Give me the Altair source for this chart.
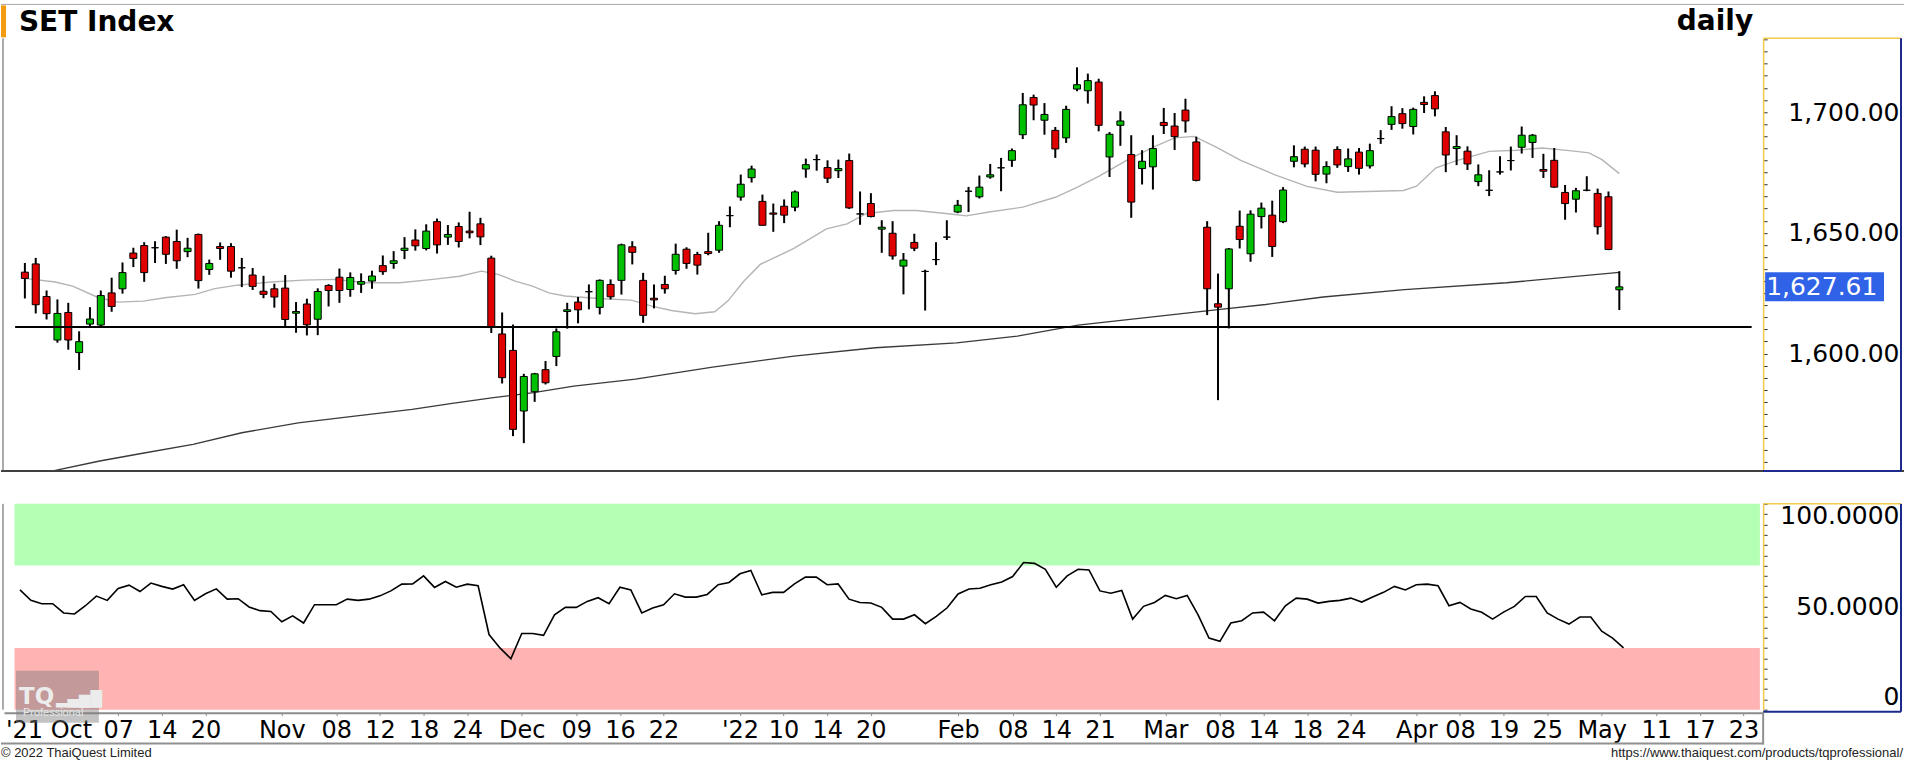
import json
import altair as alt
import pandas as pd

# ---------------- data ----------------
# daily candles, index 0 = 23 Sep 2021 ... index 147 = 6 May 2022
opens = [1633.7, 1637.1, 1623.6, 1605.6, 1617.0, 1600.4, 1612.2, 1611.8, 1625.1, 1626.8,
         1641.6, 1644.7, 1643.8, 1648.2, 1646.4, 1642.2, 1649.3, 1634.8, 1644.3, 1644.3,
         1635.5, 1632.5, 1625.8, 1626.8, 1627.1, 1616.7, 1620.5, 1614.2, 1628.2, 1631.6,
         1626.5, 1628.7, 1630.0, 1636.4, 1637.3, 1642.7, 1647.0, 1643.5, 1654.6, 1648.2,
         1652.6, 1650.7, 1653.7, 1639.5, 1608.1, 1601.3, 1576.2, 1584.2, 1593.3, 1598.8,
         1617.4, 1621.3, 1625.6, 1619.1, 1628.6, 1630.3, 1644.2, 1630.3, 1622.9, 1628.6,
         1634.4, 1643.2, 1641.0, 1642.2, 1642.8, 1657.1, 1664.8, 1672.8, 1663.0, 1658.2,
         1661.0, 1660.6, 1676.4, 1680.3, 1677.0, 1675.7, 1679.9, 1657.8, 1662.1, 1651.5,
         1649.8, 1636.2, 1646.0, 1634.0, 1638.9, 1648.2, 1658.6, 1667.2, 1664.9, 1673.1,
         1676.9, 1680.0, 1690.6, 1706.0, 1696.6, 1692.4, 1689.3, 1709.5, 1708.8, 1712.4,
         1681.4, 1694.5, 1682.4, 1676.6, 1677.3, 1695.7, 1694.2, 1700.8, 1687.6, 1652.3,
         1620.6, 1626.8, 1652.7, 1641.3, 1656.7, 1657.3, 1654.6, 1679.6, 1684.6, 1684.2,
         1674.3, 1684.5, 1677.4, 1683.4, 1677.7, 1689.0, 1694.9, 1699.3, 1694.0, 1704.0,
         1706.8, 1691.8, 1684.9, 1683.8, 1671.2, 1667.6, 1675.2, 1679.9, 1685.4, 1687.4,
         1676.2, 1680.0, 1666.7, 1663.9, 1667.6, 1666.3, 1664.9, 1626.4]
highs = [1637.5, 1639.6, 1626.1, 1622.4, 1621.0, 1609.2, 1619.2, 1626.1, 1631.4, 1637.7,
         1643.8, 1646.1, 1646.5, 1648.6, 1651.3, 1647.9, 1649.7, 1638.9, 1646.0, 1645.7,
         1639.6, 1635.4, 1632.2, 1628.9, 1632.5, 1621.3, 1622.7, 1627.0, 1628.7, 1635.2,
         1633.6, 1633.2, 1634.3, 1640.6, 1642.4, 1648.2, 1651.4, 1653.5, 1655.9, 1653.2,
         1654.3, 1658.7, 1656.2, 1640.5, 1617.0, 1612.0, 1591.6, 1592.0, 1596.9, 1610.4,
         1621.0, 1623.4, 1628.6, 1630.7, 1630.7, 1645.5, 1646.5, 1633.4, 1628.6, 1632.2,
         1645.5, 1644.0, 1642.1, 1650.0, 1654.8, 1660.9, 1674.1, 1677.8, 1665.8, 1662.1,
         1663.8, 1667.5, 1680.7, 1682.4, 1680.0, 1680.3, 1682.8, 1667.1, 1666.4, 1655.2,
         1654.8, 1641.6, 1649.6, 1634.7, 1646.1, 1655.2, 1663.6, 1669.0, 1673.7, 1678.5,
         1681.0, 1684.9, 1707.9, 1707.2, 1703.7, 1693.8, 1702.6, 1718.5, 1715.9, 1713.8,
         1691.7, 1700.3, 1690.4, 1684.2, 1690.4, 1701.7, 1699.6, 1705.5, 1689.8, 1654.8,
         1633.1, 1643.7, 1659.2, 1659.3, 1662.5, 1663.3, 1668.9, 1686.2, 1685.7, 1685.7,
         1679.6, 1685.8, 1684.9, 1685.1, 1686.9, 1692.5, 1702.4, 1701.6, 1701.8, 1706.5,
         1708.6, 1693.8, 1690.4, 1685.8, 1678.3, 1675.9, 1681.7, 1685.7, 1694.0, 1690.9,
         1682.7, 1685.1, 1669.8, 1668.6, 1673.4, 1668.3, 1667.1, 1634.1]
lows = [1622.8, 1616.6, 1614.1, 1604.5, 1601.6, 1593.2, 1611.4, 1611.1, 1617.3, 1624.8,
        1635.8, 1629.7, 1637.5, 1637.1, 1635.1, 1639.9, 1626.9, 1632.6, 1638.8, 1631.4,
        1627.5, 1626.3, 1622.9, 1619.0, 1611.0, 1608.6, 1607.5, 1607.6, 1619.5, 1621.0,
        1623.5, 1625.1, 1626.8, 1632.6, 1635.1, 1639.1, 1642.6, 1642.7, 1641.4, 1645.0,
        1643.9, 1647.7, 1644.9, 1608.5, 1587.6, 1565.8, 1562.9, 1580.0, 1587.2, 1594.8,
        1610.3, 1612.5, 1618.3, 1616.2, 1622.4, 1624.4, 1636.9, 1612.7, 1618.7, 1624.8,
        1632.7, 1635.1, 1632.7, 1640.7, 1641.7, 1652.3, 1663.3, 1670.8, 1653.0, 1650.4,
        1654.0, 1658.9, 1672.8, 1675.7, 1670.6, 1672.7, 1659.9, 1653.3, 1656.4, 1641.7,
        1638.9, 1624.5, 1642.4, 1617.8, 1636.6, 1647.0, 1658.1, 1658.6, 1664.2, 1672.4,
        1667.2, 1677.3, 1688.8, 1696.6, 1690.6, 1681.0, 1687.2, 1708.6, 1703.5, 1692.0,
        1673.1, 1686.0, 1656.2, 1670.0, 1667.9, 1690.9, 1684.3, 1691.5, 1671.3, 1615.9,
        1580.7, 1610.4, 1643.5, 1638.0, 1651.8, 1640.0, 1654.0, 1677.1, 1677.1, 1671.3,
        1670.5, 1676.9, 1675.2, 1674.1, 1676.6, 1686.8, 1692.6, 1693.1, 1690.7, 1699.6,
        1698.2, 1675.1, 1678.0, 1676.0, 1669.3, 1665.2, 1674.1, 1675.8, 1682.8, 1681.0,
        1672.7, 1668.6, 1655.4, 1658.4, 1667.2, 1649.3, 1642.8, 1618.0]
closes = [1631.1, 1620.2, 1616.5, 1616.6, 1605.6, 1604.9, 1614.3, 1624.0, 1619.5, 1633.5,
          1639.4, 1633.5, 1643.8, 1641.1, 1638.4, 1643.6, 1630.2, 1637.3, 1643.5, 1634.1,
          1635.5, 1627.8, 1624.5, 1623.4, 1614.1, 1617.4, 1611.9, 1625.7, 1626.1, 1626.1,
          1631.5, 1629.8, 1632.1, 1633.9, 1638.4, 1643.6, 1644.6, 1650.7, 1645.0, 1649.3,
          1646.4, 1650.0, 1648.3, 1611.0, 1590.0, 1568.6, 1590.5, 1591.6, 1587.9, 1609.0,
          1618.1, 1618.1, 1625.6, 1630.3, 1623.5, 1645.0, 1641.9, 1615.8, 1622.2, 1626.8,
          1641.1, 1637.3, 1636.6, 1641.4, 1653.1, 1657.1, 1670.1, 1676.4, 1653.1, 1657.7,
          1657.3, 1666.9, 1678.2, 1680.3, 1672.6, 1676.6, 1660.3, 1657.8, 1656.7, 1652.3,
          1640.4, 1638.7, 1643.6, 1634.0, 1638.9, 1648.2, 1661.4, 1667.2, 1668.9, 1674.0,
          1676.9, 1684.0, 1703.0, 1702.9, 1699.0, 1684.7, 1701.1, 1711.3, 1713.0, 1694.5,
          1690.8, 1696.3, 1662.7, 1679.6, 1684.9, 1694.4, 1689.8, 1696.3, 1671.7, 1626.8,
          1619.2, 1643.3, 1647.2, 1657.7, 1660.2, 1644.3, 1667.7, 1681.5, 1678.5, 1674.2,
          1677.4, 1678.1, 1680.6, 1676.7, 1684.0, 1689.0, 1698.1, 1695.2, 1701.1, 1703.1,
          1701.3, 1682.2, 1685.7, 1678.5, 1674.0, 1667.6, 1675.2, 1679.9, 1690.4, 1690.4,
          1675.5, 1668.9, 1662.1, 1667.4, 1667.6, 1652.5, 1643.1, 1627.61]

# 20-day average (grey) read at points along the line: (candle index, value)
ma20_idx = [0, 2.8, 4.4, 6.8, 8.6, 10.9, 12.9, 15.7, 17.5, 19.6, 22.7, 25.7, 28.5, 31.5, 34.6,
            37.6, 40.1, 42.1, 43.7, 45.2, 46.8, 48.3, 49.8, 52.9, 55.9, 57.8, 59.6, 61.8, 63.6,
            64.8, 66.3, 67.8, 70.9, 73.9, 75.8, 77.6, 80.1, 82.2, 84.9, 86.8, 88.9, 92.0, 95.0,
            96.9, 99.0, 101.7, 104.2, 106.0, 107.8, 109.7, 112.1, 115.2, 118.2, 121.0, 124.6,
            127.1, 128.3, 130.1, 132.0, 135.0, 137.5, 139.9, 142.4, 144.2, 145.4, 147.0]
ma20_val = [1631.1, 1629.6, 1627.9, 1623.1, 1621.3, 1621.7, 1623.1, 1624.5, 1626.9, 1628.3,
            1629.6, 1630.4, 1630.7, 1629.3, 1629.3, 1630.7, 1632.0, 1634.1, 1632.7, 1630.0,
            1627.9, 1625.1, 1623.8, 1622.8, 1622.1, 1619.6, 1617.8, 1616.5, 1617.3, 1621.7,
            1630.0, 1636.9, 1643.5, 1651.6, 1653.7, 1658.0, 1659.2, 1659.2, 1658.0, 1657.0,
            1658.6, 1660.6, 1664.7, 1668.6, 1673.4, 1680.3, 1685.8, 1689.3, 1689.9, 1685.8,
            1680.0, 1674.1, 1669.2, 1666.8, 1667.2, 1667.5, 1669.3, 1676.9, 1679.9, 1683.7,
            1684.2, 1685.1, 1684.0, 1683.1, 1680.3, 1674.5]

# 200-day average (dark)
ma200_idx = [2.6, 6.9, 10.6, 15.5, 20.0, 25.2, 30.4, 35.7, 39.4, 43.2, 46.9, 50.6, 56.3,
             63.4, 70.9, 78.4, 85.9, 91.5, 97.1, 104.6, 110.2, 114.4, 119.7, 127.2, 136.6, 147.0]
ma200_val = [1551.4, 1555.5, 1558.5, 1562.4, 1567.2, 1571.3, 1574.1, 1576.9, 1579.4, 1581.7,
             1583.8, 1586.5, 1589.4, 1594.4, 1598.9, 1602.4, 1604.4, 1607.2, 1611.8, 1615.5,
             1618.3, 1620.3, 1623.4, 1626.5, 1629.3, 1633.6]

support_level = 1611.0
last_close = 1627.61

rsi = [58.2, 53.1, 51.5, 51.5, 47.0, 46.5, 50.5, 55.2, 53.1, 58.9,
       60.5, 57.4, 61.5, 59.9, 58.6, 60.7, 53.1, 56.3, 58.7, 53.7,
       53.9, 49.9, 48.1, 47.7, 42.7, 45.6, 42.1, 51.0, 51.0, 51.0,
       53.7, 53.1, 53.7, 55.3, 57.7, 61.0, 61.1, 65.0, 59.4, 62.3,
       59.5, 61.0, 60.2, 36.5, 30.0, 24.7, 37.0, 37.0, 36.1, 46.1,
       49.7, 49.7, 52.6, 54.4, 51.5, 59.5, 58.2, 47.0, 49.4, 51.0,
       56.3, 54.7, 54.7, 56.0, 60.7, 61.8, 66.0, 67.6, 55.8, 57.0,
       57.0, 61.1, 64.4, 64.4, 60.7, 61.1, 53.7, 52.1, 51.8, 49.7,
       44.0, 44.0, 46.1, 41.8, 45.3, 49.5, 56.2, 58.6, 59.0, 60.7,
       62.0, 64.7, 71.5, 71.1, 68.2, 59.5, 65.0, 68.2, 67.9, 57.7,
       56.6, 57.9, 44.0, 50.2, 52.1, 55.5, 53.9, 55.5, 46.1, 34.8,
       33.2, 42.1, 43.2, 47.0, 47.4, 43.2, 50.5, 54.2, 53.7, 51.8,
       52.6, 53.1, 54.2, 52.3, 54.7, 57.0, 59.9, 58.2, 60.7, 61.0,
       60.2, 50.5, 52.1, 48.9, 47.3, 44.0, 47.4, 50.2, 55.0, 55.0,
       47.0, 44.0, 41.6, 45.0, 45.0, 38.1, 34.8, 30.0]
rsi_upper = [70, 100]   # overbought zone
rsi_lower = [0, 30]     # oversold zone

tick_idx = [5, 9, 13, 17, 24, 29, 33, 37, 41, 46, 51, 55, 59, 66, 70, 74, 78, 86, 91, 95,
            99, 105, 110, 114, 118, 122, 128, 132, 136, 140, 145, 150, 154, 158]
tick_lab = ["'21 Oct", "07", "14", "20", "Nov", "08", "12", "18", "24", "Dec", "09", "16",
            "22", "'22", "10", "14", "20", "Feb", "08", "14", "21", "Mar", "08", "14", "18",
            "24", "Apr", "08", "19", "25", "May", "11", "17", "23"]

# ---------------- layout ----------------
W, H1, H2 = 1761, 433, 206
FONT = "DejaVu Sans"
xs = alt.Scale(domain=[-1.465, 159.8], nice=False, zero=False)
ys = alt.Scale(domain=[1551.4, 1730.5], nice=False, zero=False)
rs = alt.Scale(domain=[0, 100], nice=False, zero=False)
YEL, BLU = "#f2c94c", "#1c2a8c"

n = len(closes)
dirs = ["up" if c > o else ("down" if c < o else "flat") for o, c in zip(opens, closes)]
candles = pd.DataFrame({"i": list(range(n)), "open": opens, "high": highs, "low": lows,
                        "close": closes, "dir": dirs})
one = pd.DataFrame({"k": [0]})

price_axis = alt.Axis(orient="right", values=list(range(1555, 1731, 5)),
                      labelExpr="datum.value % 50 == 0 ? format(datum.value, ',.2f') : ''",
                      title=None, grid=False, domainColor=YEL, domainWidth=1.5,
                      tickColor="#333333", tickSize=4, labelPadding=132, labelAlign="right",
                      labelBaseline="middle", labelFont=FONT, labelFontSize=25,
                      labelColor="black", labelOverlap=False, labelFlush=False)
px = alt.X("i:Q", scale=xs, axis=None)

def py(field):
    return alt.Y(field, scale=ys, axis=price_axis)

ma20 = alt.Chart(pd.DataFrame({"i": ma20_idx, "v": ma20_val})).mark_line(
    color="#b4b4b4", strokeWidth=1.4).encode(x=px, y=py("v:Q"))
ma200 = alt.Chart(pd.DataFrame({"i": ma200_idx, "v": ma200_val})).mark_line(
    color="#3a3a3a", strokeWidth=1.3).encode(x=px, y=py("v:Q"))
wicks = alt.Chart(candles).mark_rule(color="black", strokeWidth=2).encode(
    x=px, y=py("low:Q"), y2="high:Q")
bodies = alt.Chart(candles).mark_bar(size=7, stroke="black", strokeWidth=1).encode(
    x=px, y=py("open:Q"), y2="close:Q",
    color=alt.Color("dir:N", scale=alt.Scale(domain=["up", "down", "flat"],
                                             range=["#00c000", "#e00000", "#000000"]),
                    legend=None))
support = alt.Chart(pd.DataFrame({"a": [-0.9], "b": [159.2], "v": [support_level]})).mark_rule(
    color="black", strokeWidth=2).encode(x=alt.X("a:Q", scale=xs, axis=None), x2="b:Q",
                                         y=py("v:Q"))

last_df = pd.DataFrame({"v": [last_close], "lo": [last_close - 6], "hi": [last_close + 6]})
last_box = alt.Chart(last_df).mark_rect(color="#2f62e6").encode(
    x=alt.value(W + 2), x2=alt.value(W + 121), y=py("lo:Q"), y2="hi:Q")
last_txt = alt.Chart(last_df).mark_text(align="left", baseline="middle", color="white",
                                         font=FONT, fontSize=25).encode(
    x=alt.value(W + 3), y=py("v:Q"), text=alt.Text("v:Q", format=",.2f"))

def hrule(x0, x1, y, color, w=1):
    return alt.Chart(one).mark_rule(color=color, strokeWidth=w).encode(
        x=alt.value(x0), x2=alt.value(x1), y=alt.value(y))

def vrule(x, y0, y1, color, w=1):
    return alt.Chart(one).mark_rule(color=color, strokeWidth=w).encode(
        x=alt.value(x), y=alt.value(y0), y2=alt.value(y1))

title_l = alt.Chart(one).mark_text(text="SET Index", align="left", baseline="alphabetic",
                                   font=FONT, fontSize=28, fontWeight="bold").encode(
    x=alt.value(15), y=alt.value(-7))
title_r = alt.Chart(one).mark_text(text="daily", align="right", baseline="alphabetic",
                                   font=FONT, fontSize=28, fontWeight="bold").encode(
    x=alt.value(W - 10), y=alt.value(-8))
orange = alt.Chart(one).mark_rect(color="#f39c12").encode(
    x=alt.value(-3), x2=alt.value(2), y=alt.value(-33), y2=alt.value(-1))

price = alt.layer(
    ma200, ma20, wicks, bodies, support,
    hrule(-3, W + 141, -34, "#a8a8a8"),
    hrule(-3, W + 141, H1, "#404040", 2),
    hrule(W, W + 138, 0, YEL, 1.5),
    hrule(W, W + 138, H1, BLU, 2),
    vrule(W + 138, 0, H1, BLU, 2),
    vrule(-1, 0, H1, "#555555", 1),
    orange, title_l, title_r, last_box, last_txt,
).properties(width=W, height=H1)

# ---------------- RSI panel ----------------
x_axis = alt.Axis(values=tick_idx,
                  labelExpr=f"{json.dumps(tick_lab)}[indexof({json.dumps(tick_idx)}, datum.value)]",
                  title=None, grid=False, domainColor="#8c8c8c", domainWidth=2, offset=3,
                  tickColor="#8c8c8c", tickSize=3, labelFont=FONT, labelFontSize=24,
                  labelColor="black", labelPadding=22, labelBaseline="alphabetic",
                  labelOffset={"condition": {"test": "datum.value == 5", "value": -26}, "value": 0},
                  labelOverlap=False, labelFlush=False)
rsi_axis = alt.Axis(orient="right", values=list(range(0, 101, 5)),
                    labelExpr="datum.value == 0 ? '0' : (datum.value % 50 == 0 ? format(datum.value, '.4f') : '')",
                    title=None, grid=False, domainColor=YEL, domainWidth=1.5,
                    tickColor="#333333", tickSize=4, labelPadding=132, labelAlign="right",
                    labelBaseline={"condition": [{"test": "datum.value == 100", "value": "top"},
                                                 {"test": "datum.value == 0", "value": "bottom"}],
                                   "value": "middle"},
                    labelFont=FONT, labelFontSize=25, labelColor="black",
                    labelOverlap=False, labelFlush=False)
rx = alt.X("i:Q", scale=xs, axis=x_axis)

def ry(field):
    return alt.Y(field, scale=rs, axis=rsi_axis)

def band(lo_hi, color):
    d = pd.DataFrame({"a": [-0.5], "b": [159.5], "lo": [lo_hi[0]], "hi": [lo_hi[1]]})
    return alt.Chart(d).mark_rect(color=color).encode(
        x=alt.X("a:Q", scale=xs, axis=x_axis), x2="b:Q", y=ry("lo:Q"), y2="hi:Q")

rsi_line = alt.Chart(pd.DataFrame({"i": list(range(n)), "r": rsi})).mark_line(
    color="black", strokeWidth=1.6).encode(x=rx, y=ry("r:Q"))

wm_box = alt.Chart(one).mark_rect(color="#7a7a7a", opacity=0.45).encode(
    x=alt.value(12), x2=alt.value(95), y=alt.value(167), y2=alt.value(219))
wm_tq = alt.Chart(one).mark_text(text="TQ", align="left", baseline="alphabetic", font=FONT,
                                 fontSize=23, fontWeight="bold", color="#ececec").encode(
    x=alt.value(15), y=alt.value(200))
wm_bars = alt.Chart(one).mark_text(text="▂▄▆█", align="left", baseline="alphabetic", font=FONT,
                                   fontSize=15, color="#ececec").encode(
    x=alt.value(52), y=alt.value(200))
wm_pro = alt.Chart(one).mark_text(text="Professional", align="left", baseline="alphabetic",
                                  font="Liberation Sans", fontSize=11, color="#e6e6e6").encode(
    x=alt.value(19), y=alt.value(212))
foot_l = alt.Chart(one).mark_text(text="© 2022 ThaiQuest Limited", align="left",
                                  baseline="alphabetic", font="Liberation Sans", fontSize=13,
                                  color="#222222").encode(x=alt.value(-3), y=alt.value(H2 + 47))
foot_r = alt.Chart(one).mark_text(text="https://www.thaiquest.com/products/tqprofessional/",
                                  align="right", baseline="alphabetic", font="Liberation Sans",
                                  fontSize=13, color="#222222").encode(
    x=alt.value(W + 140), y=alt.value(H2 + 47))

rsi_panel = alt.layer(
    band(rsi_upper, "#b3ffb3"), band(rsi_lower, "#ffb3b3"), rsi_line,
    hrule(W, W + 138, 0, YEL, 1.5),
    hrule(W, W + 138, H2 + 2, BLU, 2),
    vrule(W + 138, 0, H2 + 2, BLU, 2),
    vrule(-1, 0, H2, "#555555", 1),
    hrule(-3, W, H2 + 34, "#909090", 2),
    vrule(W, H2 + 3, H2 + 35, "#909090", 2),
    wm_box, wm_tq, wm_bars, wm_pro, foot_l, foot_r,
).properties(width=W, height=H2)

chart = alt.vconcat(price, rsi_panel, spacing=26).properties(
    padding={"left": 0, "top": 3, "right": 0, "bottom": 0}, background="white"
).configure_view(stroke=None)

chart.save("out.html", embed_options={"renderer": "svg", "actions": False})
